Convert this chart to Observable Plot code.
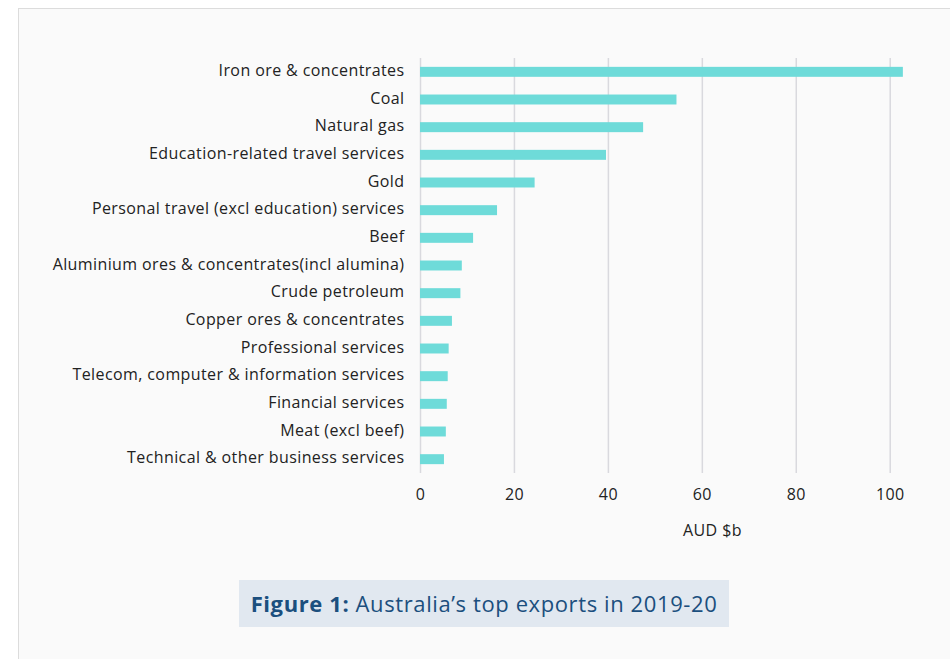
<!DOCTYPE html>
<html>
<head>
<meta charset="utf-8">
<script src="https://cdn.jsdelivr.net/npm/d3@7"></script>
<script src="https://cdn.jsdelivr.net/npm/@observablehq/plot@0.6"></script>
<style>
  html, body { margin: 0; padding: 0; background: #ffffff; }
  body { width: 950px; height: 659px; position: relative; overflow: hidden; font-family: "Open Sans", sans-serif; }
  #frame { position: absolute; left: 18px; top: 8px; width: 940px; height: 700px; background: #fafafa; border: 1px solid #dcdcdc; box-sizing: border-box; }
  #chart { position: absolute; left: 0; top: 0; }
  #chart svg text { letter-spacing: 0.4px; }
  #xlabel { position: absolute; left: 683px; top: 519px; font-size: 16px; letter-spacing: 0.4px; color: #222; white-space: nowrap; }
  #caption { position: absolute; left: 239px; top: 580px; width: 490px; height: 47px; background: #e1e8f0; color: #1b4f7e; font-size: 22px; letter-spacing: 0.6px; line-height: 47px; text-align: center; white-space: nowrap; }
  #caption b { font-weight: 700; }
</style>
</head>
<body>
<div id="frame"></div>
<div id="chart"></div>
<div id="xlabel">AUD $b</div>
<div id="caption"><b>Figure 1:</b> Australia’s top exports in 2019-20</div>
<script>
const categories = [
  "Iron ore & concentrates",
  "Coal",
  "Natural gas",
  "Education-related travel services",
  "Gold",
  "Personal travel (excl education) services",
  "Beef",
  "Aluminium ores & concentrates(incl alumina)",
  "Crude petroleum",
  "Copper ores & concentrates",
  "Professional services",
  "Telecom, computer & information services",
  "Financial services",
  "Meat (excl beef)",
  "Technical & other business services"
];
const values = [102.8, 54.6, 47.5, 39.6, 24.4, 16.4, 11.3, 8.9, 8.6, 6.8, 6.1, 5.9, 5.7, 5.5, 5.1];
const xTicks = [0, 20, 40, 60, 80, 100];

const data = categories.map((c, i) => ({category: c, value: values[i]}));

const chart = Plot.plot({
  width: 950,
  height: 520,
  marginLeft: 420,
  marginRight: 36.8,
  marginTop: 58,
  marginBottom: 47,
  style: { background: "transparent", fontFamily: "Open Sans, sans-serif", fontSize: "16px", color: "#222" },
  x: { domain: [0, 105], ticks: xTicks, label: null },
  y: { domain: categories, paddingInner: 0.64, paddingOuter: 0.32, round: false, label: null },
  marks: [
    Plot.gridX(xTicks, { stroke: "#d9d9de", strokeOpacity: 1, strokeWidth: 1.5 }),
    Plot.barX(data, { x: "value", y: "category", fill: "#6edbd9" }),
    Plot.axisX({ ticks: xTicks, tickSize: 0, tickPadding: 15, fontSize: 16, label: null }),
    Plot.axisY({ tickSize: 0, tickPadding: 16, fontSize: 16, dy: -1.5, label: null })
  ]
});
document.getElementById("chart").appendChild(chart);
</script>
</body>
</html>
